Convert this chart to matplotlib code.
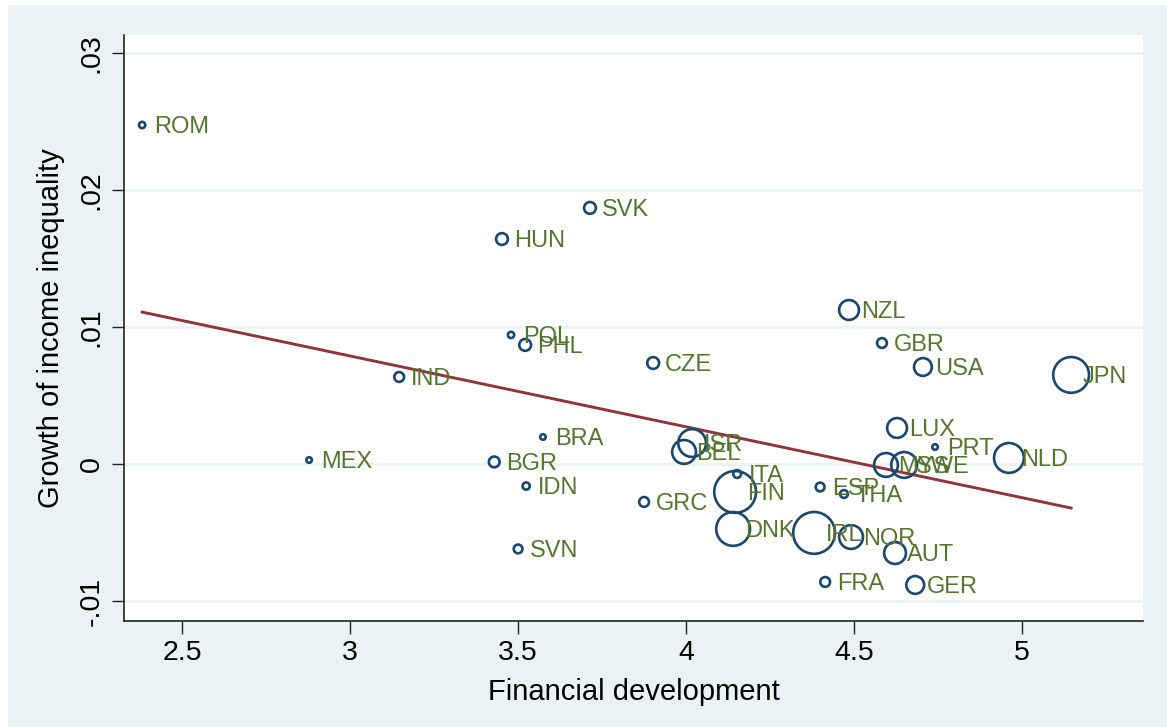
import numpy as np
import matplotlib.pyplot as plt
from matplotlib.patches import Rectangle

plt.rcParams['font.family'] = ['Liberation Sans', 'DejaVu Sans']

countries = ['ROM', 'SVK', 'HUN', 'NZL', 'POL', 'PHL', 'GBR', 'CZE', 'USA', 'JPN',
             'IND', 'LUX', 'BRA', 'PRT', 'ISR', 'BEL', 'NLD', 'MEX', 'BGR', 'MYS',
             'SWE', 'ITA', 'FIN', 'ESP', 'THA', 'IDN', 'GRC', 'DNK', 'IRL', 'NOR',
             'AUT', 'SVN', 'FRA', 'GER']
fin_dev = [2.381, 3.714, 3.452, 4.485, 3.479, 3.521, 4.583, 3.902, 4.705, 5.146,
           3.146, 4.628, 3.574, 4.741, 4.018, 3.994, 4.961, 2.878, 3.429, 4.595,
           4.649, 4.152, 4.146, 4.399, 4.470, 3.524, 3.875, 4.140, 4.381, 4.491,
           4.622, 3.500, 4.414, 4.682]
ineq_growth = [0.02474, 0.01869, 0.01642, 0.01124, 0.00942, 0.00869, 0.00883, 0.00737, 0.00708, 0.00650,
               0.00635, 0.00263, 0.00197, 0.00124, 0.00153, 0.00088, 0.00044, 0.00029, 0.00015, -0.00007,
               -0.00007, -0.00073, -0.00204, -0.00168, -0.00219, -0.00161, -0.00277, -0.00474, -0.00503, -0.00533,
               -0.00650, -0.00620, -0.00861, -0.00883]
weights = [18, 49, 49, 121, 18, 49, 36, 49, 100, 361,
           36, 121, 15, 15, 225, 169, 256, 15, 42, 169,
           196, 25, 484, 30, 25, 22, 36, 324, 484, 169,
           144, 30, 36, 100]

# fitted line (weighted OLS)
fit_slope = -0.005172
fit_intercept = 0.02340

navy = '#1A476F'
green = '#55752F'
maroon = '#90353B'
bg = '#EAF2F3'

fig = plt.figure(figsize=(11.67, 7.27), dpi=100, facecolor='white')
fig.patches.append(Rectangle((8 / 1167, 0), 1, 722 / 727, transform=fig.transFigure,
                             facecolor=bg, edgecolor='none', zorder=-1))
ax = fig.add_axes([124 / 1167, 1 - 621 / 727, (1143 - 124) / 1167, (621 - 35) / 727])
ax.set_facecolor('white')

w = np.array(weights, dtype=float)
sizes = (0.72 * (2 * np.sqrt(w) - 2.2)) ** 2
ax.scatter(fin_dev, ineq_growth, s=sizes, facecolors='none', edgecolors=navy,
           linewidths=1.9, zorder=3)

for name, x, y in zip(countries, fin_dev, ineq_growth):
    ax.annotate(name, (x, y), xytext=(12, -2), textcoords='offset pixels',
                color=green, fontsize=17, va='center', ha='left', zorder=4)

xs = np.array([min(fin_dev), max(fin_dev)])
ax.plot(xs, fit_intercept + fit_slope * xs, color=maroon, linewidth=2.1, zorder=2)

ax.set_xlim(2.327, 5.360)
ax.set_ylim(-0.01146, 0.03131)
ax.set_xticks([2.5, 3, 3.5, 4, 4.5, 5])
ax.set_xticklabels(['2.5', '3', '3.5', '4', '4.5', '5'])
ax.set_yticks([-0.01, 0, 0.01, 0.02, 0.03])
ax.set_yticklabels(['-.01', '0', '.01', '.02', '.03'], rotation=90, va='center')
ax.grid(axis='y', color=bg, linewidth=2.0, zorder=0)
ax.set_axisbelow(True)

for side in ['top', 'right']:
    ax.spines[side].set_visible(False)
for side in ['left', 'bottom']:
    ax.spines[side].set_color('#222222')
    ax.spines[side].set_linewidth(1.2)
ax.tick_params(axis='both', length=9, width=1.0, color='#222222', labelsize=20.5, pad=5)

ax.set_xlabel('Financial development', fontsize=21, labelpad=8)
ax.set_ylabel('Growth of income inequality', fontsize=21, labelpad=10)

fig.savefig('out.png', dpi=100, facecolor=fig.get_facecolor())
